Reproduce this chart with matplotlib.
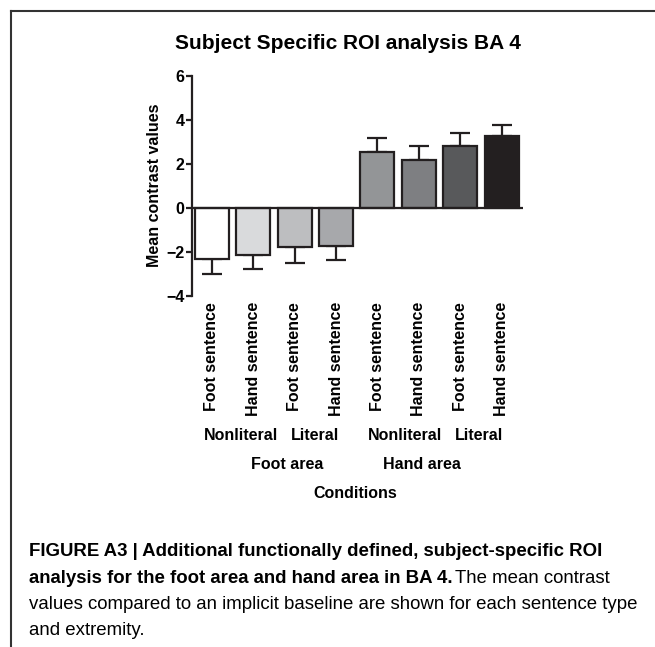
import matplotlib
matplotlib.use("Agg")
import matplotlib.pyplot as plt
import matplotlib.transforms as mtransforms
from matplotlib.lines import Line2D

# values
conditions = ["Foot sentence", "Hand sentence", "Foot sentence", "Hand sentence",
              "Foot sentence", "Hand sentence", "Foot sentence", "Hand sentence"]
means = [-2.35, -2.15, -1.79, -1.75, 2.52, 2.15, 2.82, 3.27]
sem = [0.68, 0.65, 0.71, 0.64, 0.63, 0.65, 0.56, 0.50]
colors = ["#ffffff", "#d9dadc", "#bdbec0", "#a7a8ab",
          "#939597", "#7e7f82", "#58595b", "#231f20"]
sentence_types = ["Nonliteral", "Literal", "Nonliteral", "Literal"]
areas = ["Foot area", "Hand area"]
yticks = [-4, -2, 0, 2, 4, 6]

plt.rcParams["font.family"] = ["Liberation Sans", "DejaVu Sans"]

fig = plt.figure(figsize=(6.55, 6.47), dpi=100)
ax = fig.add_axes([0.2931, 0.543, 0.5053, 0.34])

x = list(range(len(means)))
# one-sided error bars, pointing away from zero
lower = [e if m < 0 else 0 for m, e in zip(means, sem)]
upper = [e if m >= 0 else 0 for m, e in zip(means, sem)]
ax.errorbar(x, means, yerr=[lower, upper], fmt="none", ecolor="#231f20",
            elinewidth=1.6, capsize=7, capthick=1.6, zorder=1)
ax.bar(x, means, width=0.82, color=colors, edgecolor="#231f20",
       linewidth=1.6, zorder=2)
ax.axhline(0, color="#231f20", lw=1.6, zorder=3)

ax.set_xlim(-0.475, 7.51)
ax.set_ylim(-4, 6)
ax.set_yticks(yticks)
plt.setp(ax.get_yticklabels(), fontweight="bold", fontsize=11.5)
ax.set_xticks(x)
ax.set_xticklabels(conditions, rotation=90, fontweight="bold", fontsize=11.5,
                   va="top")
ax.tick_params(axis="x", length=0, pad=4.5)
ax.tick_params(axis="y", length=4, width=1.6, pad=1.5, color="#231f20")
for s in ["top", "right", "bottom"]:
    ax.spines[s].set_visible(False)
ax.spines["left"].set_linewidth(1.6)
ax.spines["left"].set_color("#231f20")
ax.set_ylabel("Mean contrast values", fontweight="bold", fontsize=11.5,
              labelpad=3)

# grouped category labels under the tick labels
trans = mtransforms.blended_transform_factory(ax.transData, fig.transFigure)
for pos, lab in zip([0.71, 2.49, 4.66, 6.46], sentence_types):
    ax.text(pos, 0.3266, lab, transform=trans, ha="center", va="center",
            fontweight="bold", fontsize=11.5)
for pos, lab in zip([1.81, 5.07], areas):
    ax.text(pos, 0.2813, lab, transform=trans, ha="center", va="center",
            fontweight="bold", fontsize=11.5)
ax.text(3.47, 0.2375, "Conditions", transform=trans, ha="center", va="center",
        fontweight="bold", fontsize=11.5)

fig.text(0.531, 0.9335, "Subject Specific ROI analysis BA 4", ha="center",
         va="center", fontweight="bold", fontsize=15)

# frame lines of the figure panel
fig.add_artist(Line2D([11 / 655, 1], [1 - 11 / 647] * 2, color="#333333",
                      lw=1.5, transform=fig.transFigure))
fig.add_artist(Line2D([11 / 655] * 2, [0, 1 - 11 / 647], color="#333333",
                      lw=1.5, transform=fig.transFigure))

# caption
cap_font = ["Liberation Sans", "DejaVu Sans"]
cap_size = 13.4
cx = 29 / 655
line_y = [1 - 556 / 647, 1 - 583 / 647, 1 - 609 / 647, 1 - 635 / 647]
fig.text(cx, line_y[0],
         "FIGURE A3 | Additional functionally defined, subject-specific ROI",
         family=cap_font, fontweight="bold", fontsize=cap_size, va="baseline")
bold2 = fig.text(cx, line_y[1],
                 "analysis for the foot area and hand area in BA 4.",
                 family=cap_font, fontweight="bold", fontsize=cap_size,
                 va="baseline")
renderer = fig.canvas.get_renderer()
bb = bold2.get_window_extent(renderer)
fig.text(bb.x1 / fig.bbox.width + 0.004, line_y[1], "The mean contrast",
         family=cap_font, fontsize=cap_size, va="baseline")
fig.text(cx, line_y[2],
         "values compared to an implicit baseline are shown for each sentence type",
         family=cap_font, fontsize=cap_size, va="baseline")
fig.text(cx, line_y[3], "and extremity.", family=cap_font, fontsize=cap_size,
         va="baseline")

fig.savefig("out.png", dpi=100)
